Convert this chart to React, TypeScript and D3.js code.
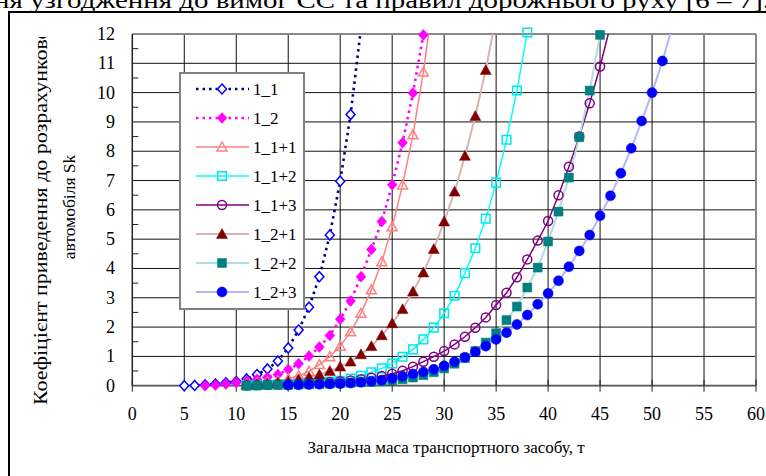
import React from "react";
import * as d3 from "d3";

// ---- data (mass in tonnes -> coefficient Sk) ----
const xTickValues = [0, 5, 10, 15, 20, 25, 30, 35, 40, 45, 50, 55, 60];
const yTickValues = [0, 1, 2, 3, 4, 5, 6, 7, 8, 9, 10, 11, 12];

const start1_1 = 5;
const s1_1 = [0, 0.01, 0.03, 0.06, 0.1, 0.14, 0.23, 0.38, 0.57, 0.84, 1.29, 1.9, 2.68, 3.72, 5.14, 6.98, 9.25, 12.2];

const start1_2 = 7;
const s1_2 = [0, 0.02, 0.06, 0.11, 0.16, 0.22, 0.29, 0.38, 0.55, 0.75, 1.01, 1.32, 1.71, 2.27, 2.89, 3.72, 4.65, 5.6, 6.86, 8.29, 9.99, 11.97];

const start1_1p1 = 11;
const s1_1p1 = [0.05, 0.08, 0.12, 0.17, 0.24, 0.34, 0.49, 0.72, 0.99, 1.35, 1.84, 2.47, 3.27, 4.23, 5.42, 6.85, 8.56, 10.7, 13.3];

const start1_1p2 = 11;
const s1_1p2 = [0.01, 0.02, 0.03, 0.04, 0.05, 0.07, 0.09, 0.11, 0.14, 0.17, 0.24, 0.34, 0.46, 0.59, 0.76, 0.99, 1.24, 1.58, 1.98, 2.47, 3.07, 3.84, 4.69, 5.7, 6.93, 8.39, 10.07, 12.05];

const start1_1p3 = 11;
const s1_1p3 = [0.015, 0.02, 0.03, 0.04, 0.05, 0.06, 0.08, 0.1, 0.12, 0.15, 0.18, 0.22, 0.27, 0.33, 0.41, 0.51, 0.65, 0.82, 0.99, 1.18, 1.41, 1.67, 1.98, 2.33, 2.75, 3.17, 3.7, 4.31, 4.95, 5.62, 6.5, 7.47, 8.5, 9.64, 10.89, 12.3];

const start1_2p1 = 11;
const s1_2p1 = [0.03, 0.05, 0.07, 0.1, 0.14, 0.22, 0.29, 0.38, 0.5, 0.65, 0.82, 1.07, 1.35, 1.72, 2.13, 2.61, 3.21, 3.86, 4.66, 5.6, 6.62, 7.84, 9.2, 10.77, 12.6];

const start1_2p2 = 11;
const s1_2p2 = [0, 0.01, 0.02, 0.03, 0.03, 0.04, 0.05, 0.06, 0.07, 0.09, 0.1, 0.12, 0.13, 0.15, 0.18, 0.22, 0.28, 0.36, 0.46, 0.59, 0.75, 0.94, 1.18, 1.47, 1.79, 2.24, 2.7, 3.35, 4.03, 4.92, 5.94, 7.1, 8.48, 10.07, 11.97];

const start1_2p3 = 15;
const s1_2p3 = [0.02, 0.03, 0.04, 0.05, 0.06, 0.07, 0.09, 0.12, 0.15, 0.19, 0.25, 0.32, 0.4, 0.47, 0.56, 0.68, 0.82, 0.97, 1.16, 1.35, 1.58, 1.81, 2.09, 2.41, 2.78, 3.15, 3.58, 4.06, 4.6, 5.14, 5.8, 6.48, 7.25, 8.1, 9.03, 10.0, 11.08, 12.3];

type Marker = "diamond" | "triangle" | "square" | "circle";
interface Series {
  name: string;
  start: number;
  values: number[];
  line: string;
  lineWidth: number;
  dash?: string;
  marker: Marker;
  markerColor: string;
  filled: boolean;
  size: number;
}

const seriesList: Series[] = [
  { name: "1_1", start: start1_1, values: s1_1, line: "#000080", lineWidth: 2.6, dash: "2.5,4", marker: "diamond", markerColor: "#0000ff", filled: false, size: 5 },
  { name: "1_2", start: start1_2, values: s1_2, line: "#ff00ff", lineWidth: 2.6, dash: "2.5,4", marker: "diamond", markerColor: "#ff00ff", filled: true, size: 5.5 },
  { name: "1_1+1", start: start1_1p1, values: s1_1p1, line: "#ff8080", lineWidth: 1.5, marker: "triangle", markerColor: "#ff8080", filled: false, size: 5 },
  { name: "1_1+2", start: start1_1p2, values: s1_1p2, line: "#00ffff", lineWidth: 1.5, marker: "square", markerColor: "#00e5ee", filled: false, size: 4.3 },
  { name: "1_1+3", start: start1_1p3, values: s1_1p3, line: "#800080", lineWidth: 1.5, marker: "circle", markerColor: "#800080", filled: false, size: 4.5 },
  { name: "1_2+1", start: start1_2p1, values: s1_2p1, line: "#d8b4b4", lineWidth: 2, marker: "triangle", markerColor: "#800000", filled: true, size: 5.5 },
  { name: "1_2+2", start: start1_2p2, values: s1_2p2, line: "#b4dcdc", lineWidth: 2, marker: "square", markerColor: "#008080", filled: true, size: 4.5 },
  { name: "1_2+3", start: start1_2p3, values: s1_2p3, line: "#b4b4ff", lineWidth: 2, marker: "circle", markerColor: "#0000ff", filled: true, size: 5 },
];

const PL = 132.3, PR = 756, PT = 34, PB = 385.7;
const serif: React.CSSProperties = { fontFamily: '"Liberation Serif", "Times New Roman", Times, serif' };

function markerPath(m: Marker, s: number): string | null {
  if (m === "diamond") return `M0,${-s}L${s * 0.9},0L0,${s}L${-s * 0.9},0Z`;
  if (m === "triangle") return `M0,${-s}L${s},${s * 0.8}L${-s},${s * 0.8}Z`;
  if (m === "square") return `M${-s},${-s}H${s}V${s}H${-s}Z`;
  return null;
}

function MarkerShape({ s, x, y }: { s: Series; x: number; y: number }) {
  const fill = s.filled ? s.markerColor : s.marker === "diamond" ? "#ffffff" : "none";
  const stroke = s.markerColor;
  const sw = s.filled ? 0.5 : 1.5;
  if (s.marker === "circle") {
    return <circle cx={x} cy={y} r={s.size} fill={fill} stroke={stroke} strokeWidth={sw} />;
  }
  return <path d={markerPath(s.marker, s.size)!} transform={`translate(${x},${y})`} fill={fill} stroke={stroke} strokeWidth={sw} />;
}

export default function App() {
  const x = d3.scaleLinear().domain([0, 60]).range([PL, PR]);
  const y = d3.scaleLinear().domain([0, 12]).range([PB, PT]);
  const line = d3
    .line<[number, number]>()
    .x((d) => x(d[0]))
    .y((d) => y(d[1]));

  const pts = (s: Series): [number, number][] => s.values.map((v, i) => [s.start + i, v]);
  const minorTicks = d3.range(0.5, 12, 1);

  const legendTop = 89;
  const legendStep = 29;

  return (
    <svg width={766} height={476} style={{ position: "absolute", left: 0, top: 0, background: "#fff" }}>
      <defs>
        <clipPath id="plotClip">
          <rect x={PL} y={PT} width={PR - PL} height={PB - PT} />
        </clipPath>
        <clipPath id="ytitleClip">
          <rect x={0} y={37} width={120} height={440} />
        </clipPath>
      </defs>

      {/* cropped caption text on top */}
      <text x={-6} y={8} style={serif} fontSize={23} textLength={776} lengthAdjust="spacingAndGlyphs" fill="#000">
        ня узгодження до вимог ЄС та правил дорожнього руху [6 – 7].
      </text>

      {/* outer frame */}
      <rect x={9} y={12} width={770} height={480} fill="none" stroke="#000" strokeWidth={2} />

      {/* grid */}
      {xTickValues.filter((v) => v > 0 && v < 60).map((v) => (
        <line key={"vx" + v} x1={x(v)} x2={x(v)} y1={PT} y2={PB} stroke="#111" strokeWidth={1} />
      ))}
      {yTickValues.filter((v) => v > 0 && v < 12).map((v) => (
        <line key={"hy" + v} x1={PL} x2={PR} y1={y(v)} y2={y(v)} stroke="#111" strokeWidth={1} />
      ))}
      <line x1={PL} x2={PR} y1={PT} y2={PT} stroke="#888" strokeWidth={2} />
      <line x1={PR} x2={PR} y1={PT} y2={PB} stroke="#888" strokeWidth={2} />

      {/* axes */}
      <line x1={PL} x2={PL} y1={PT} y2={PB} stroke="#222" strokeWidth={1.5} />
      <line x1={PL} x2={PR} y1={PB} y2={PB} stroke="#555" strokeWidth={1.8} />
      {minorTicks.map((v) => (
        <line key={"mt" + v} x1={PL} x2={PL + 6} y1={y(v)} y2={y(v)} stroke="#222" strokeWidth={1} />
      ))}
      {xTickValues.map((v) => (
        <line key={"xt" + v} x1={x(v)} x2={x(v)} y1={PB - 6} y2={PB + 6} stroke="#222" strokeWidth={1} />
      ))}

      {/* tick labels */}
      {yTickValues.map((v) => (
        <text key={"yl" + v} x={115} y={y(v) + 6} textAnchor="end" style={serif} fontSize={18} fill="#000">
          {v}
        </text>
      ))}
      {xTickValues.map((v) => (
        <text key={"xl" + v} x={x(v)} y={420} textAnchor="middle" style={serif} fontSize={18} fill="#000">
          {v}
        </text>
      ))}

      {/* axis titles */}
      <text x={446} y={453} textAnchor="middle" style={serif} fontSize={17} fill="#000">
        Загальна маса транспортного засобу, т
      </text>
      <g clipPath="url(#ytitleClip)">
        <text transform="translate(47,207) rotate(-90)" textAnchor="middle" style={serif} fontSize={18.5} textLength={396} lengthAdjust="spacingAndGlyphs" fill="#000">
          Коефіцієнт приведення до розрахункового
        </text>
      </g>
      <text transform="translate(75,207) rotate(-90)" textAnchor="middle" style={serif} fontSize={17.5} fill="#000">
        автомобіля Sk
      </text>

      {/* series lines */}
      <g clipPath="url(#plotClip)">
        {seriesList.map((s) => (
          <path key={"l" + s.name} d={line(pts(s)) || ""} fill="none" stroke={s.line} strokeWidth={s.lineWidth} strokeDasharray={s.dash} />
        ))}
      </g>
      {/* markers */}
      {seriesList.map((s) => (
        <g key={"m" + s.name}>
          {pts(s)
            .filter((d) => d[1] <= 12.05)
            .map((d) => (
              <MarkerShape key={d[0]} s={s} x={x(d[0])} y={y(d[1])} />
            ))}
        </g>
      ))}

      {/* legend */}
      <rect x={180} y={73} width={124} height={236} fill="#fff" stroke="#808080" strokeWidth={2} />
      {seriesList.map((s, i) => {
        const ly = legendTop + i * legendStep;
        return (
          <g key={"lg" + s.name}>
            <line x1={196} x2={249} y1={ly} y2={ly} stroke={s.line} strokeWidth={s.lineWidth} strokeDasharray={s.dash} />
            <MarkerShape s={s} x={222} y={ly} />
            <text x={253} y={ly + 6} style={serif} fontSize={17} fill="#000">
              {s.name}
            </text>
          </g>
        );
      })}
    </svg>
  );
}
